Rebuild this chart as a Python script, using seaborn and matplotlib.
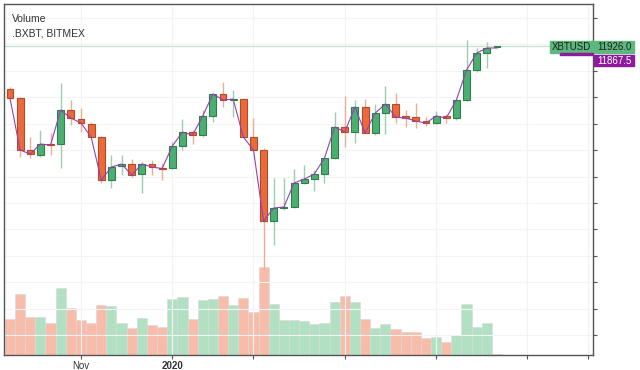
import numpy as np
import pandas as pd
import seaborn as sns
import matplotlib.pyplot as plt
from matplotlib.patches import Rectangle

# weekly XBTUSD candles (Sep 2019 - Aug 2020)
opens = [10313, 9972, 8004, 7814, 8231, 8231, 9518, 9177, 8988, 8496,
         6868, 7398, 7474, 7095, 7474, 7323, 7323, 8155, 8685, 8572,
         9291, 10123, 9910, 9934, 8496, 8004, 5316, 5809, 5846, 6755,
         6906, 7095, 7701, 8874, 8685, 9631, 8647, 9404, 9745, 9291,
         9253, 9101, 9026, 9291, 9215, 9896, 11032, 11675, 11890]
highs = [10388, 10010, 8496, 8761, 8647, 10540, 9896, 9594, 9064, 8534,
         7814, 7814, 7663, 7550, 7625, 7512, 8307, 9177, 8761, 9518,
         10161, 10578, 10275, 9972, 9215, 8080, 6944, 6944, 7285, 7436,
         7247, 7739, 9442, 10047, 9896, 9934, 9745, 10426, 10161, 9518,
         9783, 9253, 9480, 9366, 9934, 12167, 11865, 12092, 11935]
lows = [9934, 7739, 7701, 7739, 7814, 7323, 8950, 8685, 8496, 6755,
        6566, 7058, 6982, 6376, 7058, 6868, 7285, 8004, 8231, 8496,
        9064, 9631, 9253, 8496, 8004, 3500, 4408, 5733, 5809, 6717,
        6452, 6755, 7663, 8117, 8269, 8647, 8572, 8609, 9026, 8874,
        8837, 8912, 8988, 9026, 9139, 9858, 10956, 11108, 11880]
closes = [9972, 8004, 7852, 8231, 8193, 9518, 9215, 9026, 8496, 6868,
          7360, 7474, 7058, 7474, 7360, 7304, 8155, 8685, 8572, 9291,
          10123, 9896, 9934, 8496, 8004, 5316, 5809, 5846, 6755, 6906,
          7095, 7701, 8874, 8685, 9631, 8647, 9404, 9745, 9253, 9215,
          9101, 9026, 9291, 9215, 9896, 11032, 11675, 11865, 11926]
# .BXBT index line (last value 11867.5)
bxbt = closes[:-1] + [11867.5]
# volume, billions
volumes = [10.8, 18.3, 11.4, 11.4, 9.6, 20.1, 14.1, 10.5, 9.6, 15.0,
           14.7, 9.6, 8.1, 11.1, 9.0, 8.4, 16.8, 17.4, 10.8, 16.5,
           16.8, 17.7, 15.0, 17.1, 12.9, 26.4, 15.3, 10.5, 10.5, 10.2,
           9.3, 9.6, 15.9, 17.7, 15.9, 10.8, 8.1, 9.3, 7.8, 6.9,
           6.9, 5.1, 5.4, 3.9, 6.0, 15.3, 8.4, 9.6, 0.2]
# bar index of the first bar in each month shown on the axis
tick_pos = [7, 16, 24, 33, 42, 51, 57]
tick_labels = ["Nov", "2020", "", "", "", "", ""]

last_price = 11926.0
last_bxbt = 11867.5

df = pd.DataFrame({"i": np.arange(len(opens)), "open": opens, "high": highs,
                   "low": lows, "close": closes, "bxbt": bxbt, "volume": volumes})
df["dir"] = np.where(df["close"] >= df["open"], "up", "down")

sns.set_theme(style="white")
plt.rcParams["font.family"] = ["Liberation Sans", "DejaVu Sans"]

up_body, up_edge, up_wick = "#4caf72", "#2f7d4c", "#9ccfae"
dn_body, dn_edge, dn_wick = "#ea6a3c", "#b44a28", "#f0ab90"

fig = plt.figure(figsize=(6.4, 3.7), dpi=100)
ax = fig.add_axes([0.007, 0.0405, 0.9195, 0.9486])
ax2 = ax.twinx()

# volume behind the candles
sns.barplot(data=df, x="i", y="volume", hue="dir",
            palette={"up": "#b2e0c3", "down": "#f7bcaa"}, saturation=1,
            dodge=False, width=1.0, linewidth=0.4,
            edgecolor="#d8d8d8", legend=False, ax=ax2)
ax2.set_ylim(0, 105.3)
ax2.set_yticks([])
ax2.set_ylabel("")
ax2.set_xlabel("")
for s in ax2.spines.values():
    s.set_visible(False)

ax.set_zorder(ax2.get_zorder() + 1)
ax.patch.set_visible(False)

# candles
for _, r in df.iterrows():
    up = r["dir"] == "up"
    ax.vlines(r["i"], r["low"], r["high"], color=up_wick if up else dn_wick, lw=1.0, zorder=2)
    bot = min(r["open"], r["close"])
    h = max(abs(r["close"] - r["open"]), 25)
    ax.add_patch(Rectangle((r["i"] - 0.34, bot), 0.68, h,
                           facecolor=up_body if up else dn_body,
                           edgecolor=up_edge if up else dn_edge, lw=0.8, zorder=3))

sns.lineplot(data=df, x="i", y="bxbt", color="#9b3fb0", lw=0.8, ax=ax, zorder=4)

ax.axhline(last_price, color="#c4e3cf", lw=0.9, zorder=1)

ax.set_xlim(-0.54, 57.46)
ax.set_ylim(245, 13530)
ax.yaxis.tick_right()
ax.set_yticks(np.arange(1000, 13001, 1000))
ax.set_yticklabels([])
ax.set_xticks(tick_pos)
ax.set_xticklabels(tick_labels)
ax.set_xlabel("")
ax.set_ylabel("")
ax.tick_params(axis="both", length=3, width=0.8, color="#555555", labelsize=7,
               labelcolor="#333333", pad=1)
ax.tick_params(axis="y", right=True, left=False)
ax.tick_params(axis="x", bottom=True)
for lbl in ax.get_xticklabels():
    if lbl.get_text() == "2020":
        lbl.set_fontweight("bold")
ax.grid(True, color="#f3f3f3", lw=0.8)
for s in ax.spines.values():
    s.set_color("#555555")
    s.set_linewidth(1.0)

ax.text(12 / 640, 1 - 18.5 / 370, "Volume", transform=fig.transFigure,
        fontsize=7.5, color="#333333", va="center", ha="left")
ax.text(12 / 640, 1 - 33 / 370, ".BXBT, BITMEX", transform=fig.transFigure,
        fontsize=7.5, color="#333333", va="center", ha="left")

# price tags on the right
y_last = 1 - 47 / 370
y_bx = 1 - 60.5 / 370
fig.patches.append(Rectangle((550 / 640, y_last - 6 / 370), 43 / 640, 12 / 370,
                             transform=fig.transFigure, color="#5cb87c", zorder=5))
fig.patches.append(Rectangle((560 / 640, y_last - 7.5 / 370), 33 / 640, 1.5 / 370,
                             transform=fig.transFigure, color="#8e1a9e", zorder=5))
fig.patches.append(Rectangle((594 / 640, y_last - 6 / 370), 40 / 640, 12 / 370,
                             transform=fig.transFigure, color="#5cb87c", zorder=5))
fig.patches.append(Rectangle((594 / 640, y_bx - 5.5 / 370), 40 / 640, 11 / 370,
                             transform=fig.transFigure, color="#8e1a9e", zorder=5))
fig.text(571 / 640, y_last, "XBTUSD", fontsize=7, color="#1e1e1e",
         ha="center", va="center", zorder=6)
fig.text(614 / 640, y_last, f"{last_price:.1f}", fontsize=7, color="#1e1e1e",
         ha="center", va="center", zorder=6)
fig.text(614 / 640, y_bx, f"{last_bxbt:.1f}", fontsize=7, color="white",
         ha="center", va="center", zorder=6)

fig.savefig("out.png", dpi=100, facecolor="white")
